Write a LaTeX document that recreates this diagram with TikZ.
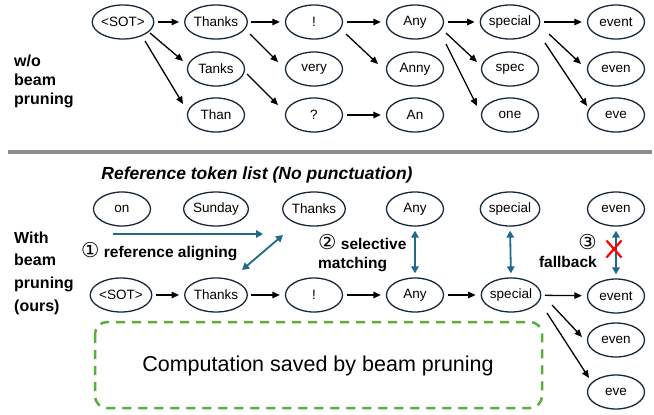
\documentclass[tikz,border=0pt]{standalone}
\usepackage{fontspec}
\setmainfont{Liberation Sans}
\newfontfamily\dvfont{DejaVu Sans}
\usetikzlibrary{arrows.meta,shapes.geometric,calc}
\definecolor{nodeline}{HTML}{17283B}
\definecolor{blu}{HTML}{1F6A8A}
\definecolor{grn}{HTML}{5AAE3C}
\definecolor{sepgray}{HTML}{8C8C8C}
\newcommand{\circnum}[1]{{\dvfont\fontseries{m}\fontsize{20.5}{18}\selectfont #1}}
\begin{document}
\begin{tikzpicture}[x=1pt,y=-1pt,
 tok/.style={ellipse,draw=nodeline,line width=1.3pt,minimum width=57pt,minimum height=34pt,inner sep=0pt,font=\fontsize{13.5}{15}\selectfont},
 arr/.style={-{Triangle[length=7.5pt,width=6.5pt]},line width=1.3pt},
 harr/.style={arr,shorten <=3.5pt,shorten >=5pt},
 barr/.style={{Triangle[length=7pt,width=7.5pt]}-{Triangle[length=7pt,width=7.5pt]},line width=1.8pt,draw=blu,fill=blu},
 vbarr/.style={barr,shorten <=4pt,shorten >=4pt},
 lab/.style={font=\bfseries\fontsize{16}{19}\selectfont,align=left,anchor=west,inner sep=0pt},
 lab2/.style={font=\bfseries\fontsize{15.5}{18.5}\selectfont,inner sep=0pt}]
\useasboundingbox (0,0) rectangle (654,415);

% ---------- top: w/o beam pruning ----------
\node[lab] (wo) at (14,81) {w/o\\beam\\pruning};

\node[tok] (s0) at (123,22) {<SOT>};
\node[tok] (t1) at (216,22) {Thanks};
\node[tok] (t2) at (216,69) {Tanks};
\node[tok] (t3) at (216,115) {Than};
\node[tok] (e1) at (314,22) {!};
\node[tok] (e2) at (314,69) {very};
\node[tok] (e3) at (314,115) {?};
\node[tok] (a1) at (415,22) {Any};
\node[tok] (a2) at (415,69) {Anny};
\node[tok] (a3) at (415,115) {An};
\node[tok] (p1) at (510,22) {special};
\node[tok] (p2) at (510,69) {spec};
\node[tok] (p3) at (510,115) {one};
\node[tok] (v1) at (616,22) {event};
\node[tok] (v2) at (616,69) {even};
\node[tok] (v3) at (616,115) {eve};

\draw[harr] (s0) -- (t1);
\draw[arr] ($(s0)+(27,11)$) -- ($(t2)+(-33,-8)$);
\draw[arr] ($(s0)+(22,19)$) -- ($(t3)+(-33,-11)$);
\draw[harr] (t1) -- (e1);
\draw[arr] ($(t1)+(34,12)$) -- ($(e2)+(-36,-7)$);
\draw[arr] ($(t2)+(31,5)$) -- ($(e3)+(-36,-10)$);
\draw[harr] (e1) -- (a1);
\draw[arr] ($(e1)+(32,12)$) -- ($(a2)+(-37,-5)$);
\draw[harr] (e3) -- (a3);
\draw[harr] (a1) -- (p1);
\draw[arr] ($(a1)+(31,11)$) -- ($(p2)+(-33,-7)$);
\draw[arr] ($(a1)+(31,22)$) -- ($(p3)+(-33,-9)$);
\draw[harr] (p1) -- (v1);
\draw[arr] ($(p1)+(39,12)$) -- ($(v2)+(-35,-5)$);
\draw[arr] ($(p1)+(35,21)$) -- ($(v3)+(-29,-9)$);

% ---------- separator ----------
\coordinate (sepL) at (8,152);
\coordinate (sepR) at (652,152);
\draw[sepgray,line width=3.5pt] (sepL) -- (sepR);

% ---------- bottom: with beam pruning ----------
\node[font=\bfseries\itshape\fontsize{17.5}{20}\selectfont,inner sep=0pt] (title) at (257,175) {Reference token list (No punctuation)};

\node[lab,font=\bfseries\fontsize{16}{22.7}\selectfont] (with) at (14,273) {With\\beam\\pruning\\(ours)};

\node[tok] (r1) at (122,209) {on};
\node[tok] (r2) at (216,209) {Sunday};
\node[tok] (r3) at (314,209) {Thanks};
\node[tok] (r4) at (415,209) {Any};
\node[tok] (r5) at (510,209) {special};
\node[tok] (r6) at (616,209) {even};

\node[tok] (b0) at (121,295) {<SOT>};
\node[tok] (b1) at (216,295) {Thanks};
\node[tok] (b2) at (314,295) {!};
\node[tok] (b3) at (415,295) {Any};
\node[tok] (b4) at (511,295) {special};
\node[tok] (b5) at (616,296) {event};
\node[tok] (b6) at (616,340) {even};
\node[tok] (b7) at (616,392) {eve};

\draw[harr] (b0) -- (b1);
\draw[harr] (b1) -- (b2);
\draw[harr] (b2) -- (b3);
\draw[harr] (b3) -- (b4);
\draw[harr] (b4) -- (b5);
\draw[arr] ($(b4)+(41,10)$) -- ($(b6)+(-34,-3)$);
\draw[arr] ($(b4)+(36,18)$) -- ($(b7)+(-27,-14)$);

% blue arrows
\coordinate (alS) at (113,234);
\coordinate (alE) at (263,234);
\draw[blu,line width=1.8pt,-{Triangle[length=7pt,width=7.5pt]}] (alS) -- (alE);
\draw[barr] ($(r3)+(-31,26)$) -- ($(b1)+(26,-25)$);
\draw[vbarr] (r4.south) -- (b3.north);
\draw[vbarr] (r5.south) -- (b4.north);
\draw[vbarr] (r6.south) -- (b5.north);
\coordinate (xc) at (614,249);
\draw[red,line width=2.2pt] ($(xc)+(-7.5,-8.5)$) -- ($(xc)+(7.5,8.5)$);
\draw[red,line width=2.2pt] ($(xc)+(7.5,-8.5)$) -- ($(xc)+(-7.5,8.5)$);

\node[lab2,anchor=west] (l1) at (81,252) {\circnum{①} reference aligning};
\node[lab2,anchor=west,align=left] (l2) at (318,253) {\circnum{②} selective\\matching};
\node[lab2,anchor=east,align=right] (l3) at (597,251) {\circnum{③}\\fallback};

% dashed box
\draw[grn,line width=2.5pt,dash pattern=on 9pt off 7pt,rounded corners=12pt] (95,322) rectangle (542,408);
\node[font=\fontsize{21.5}{25}\selectfont] (comp) at (318,366) {Computation saved by beam pruning};
\end{tikzpicture}
\end{document}
